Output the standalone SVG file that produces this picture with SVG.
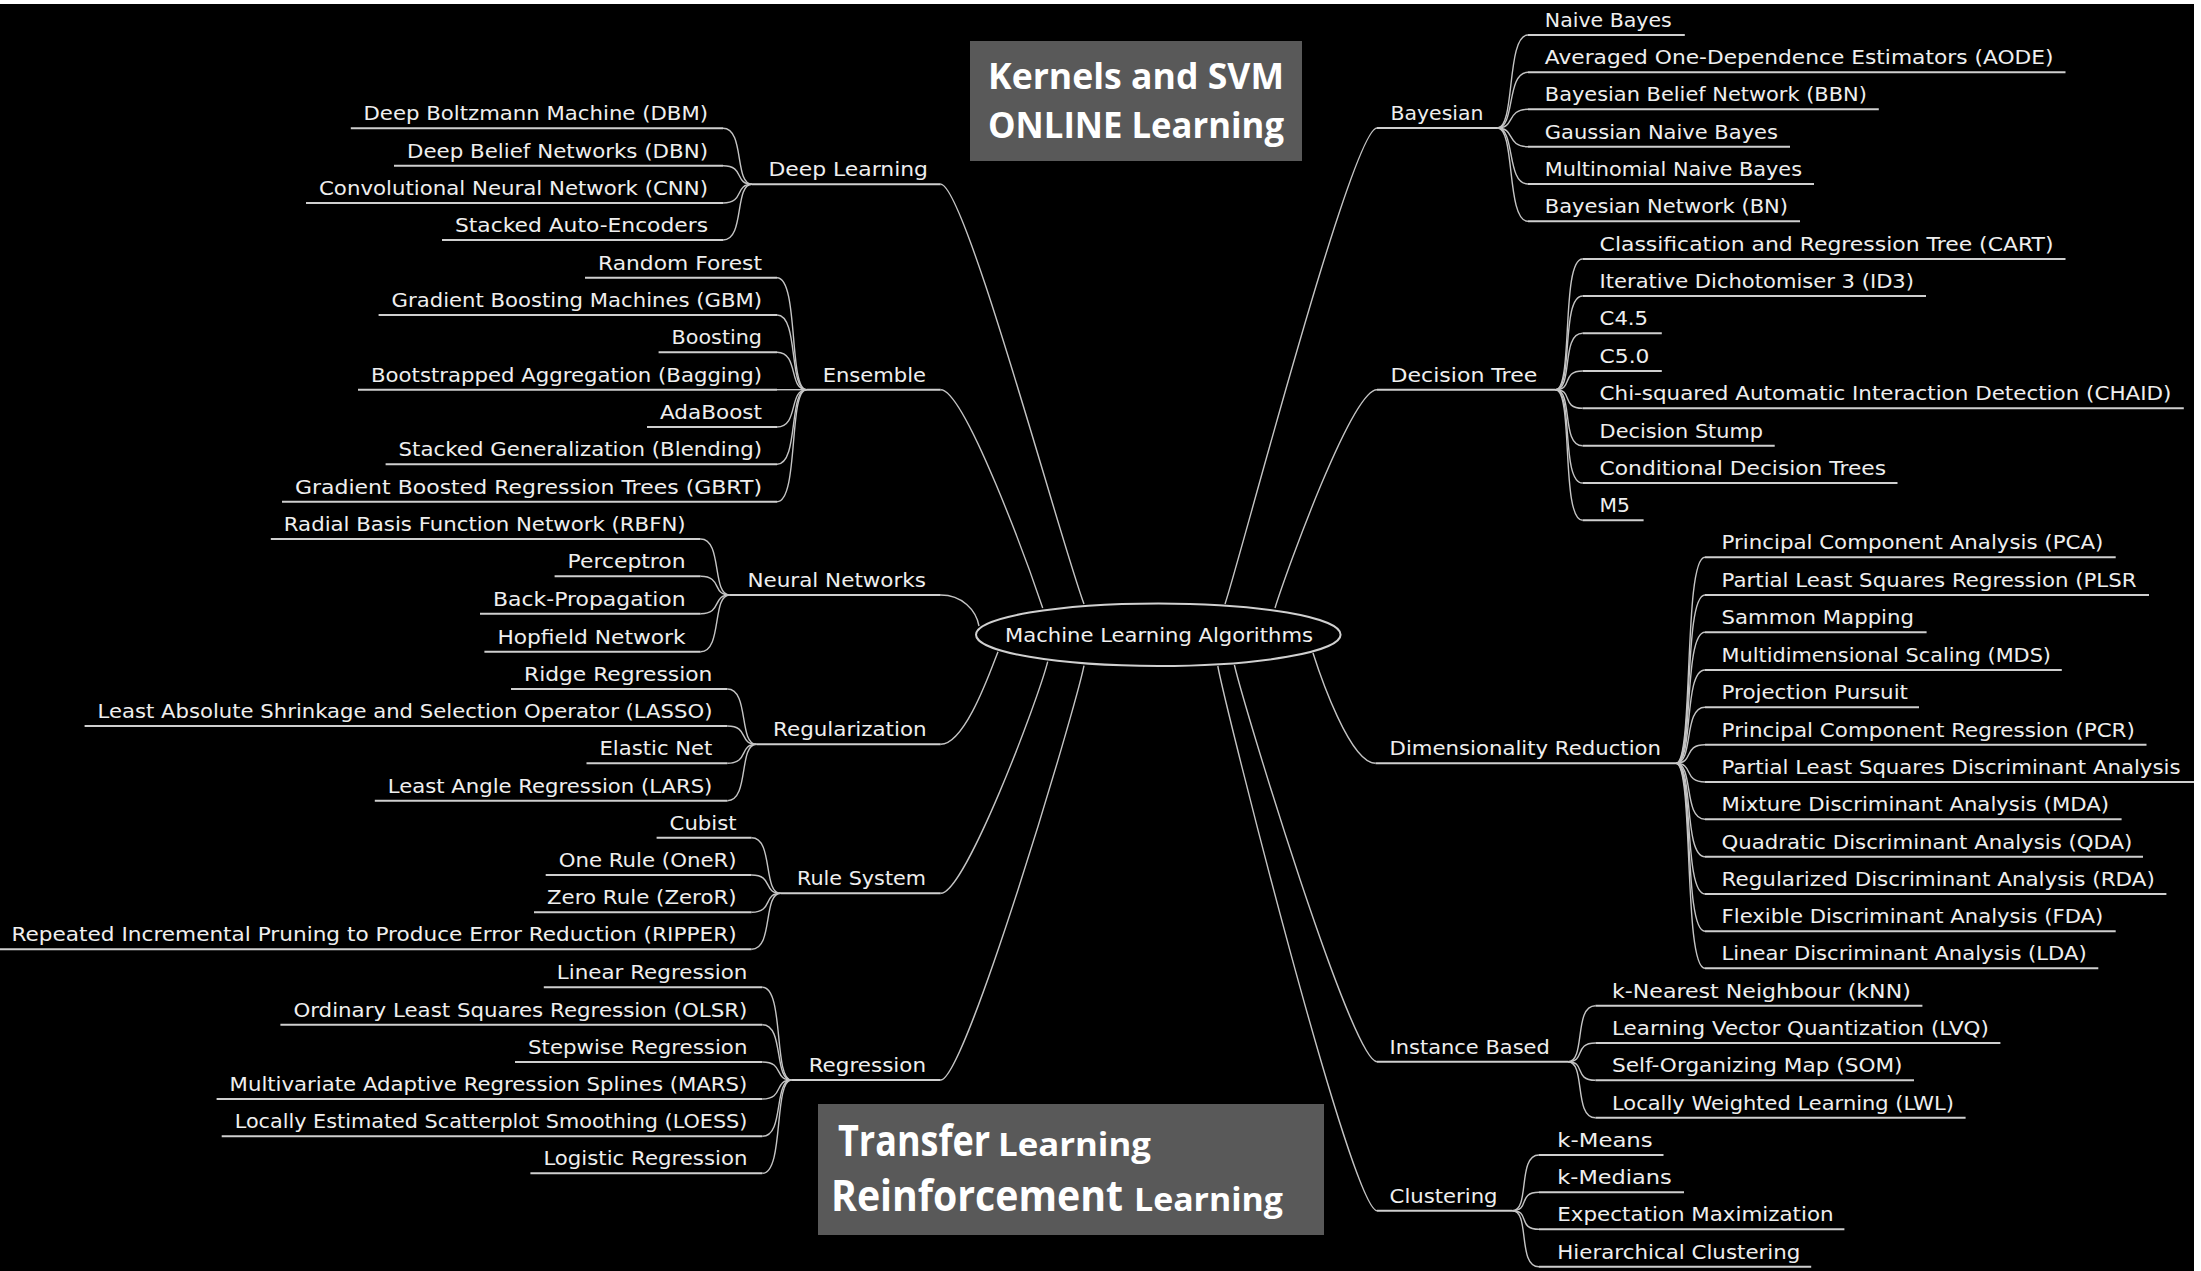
<svg xmlns="http://www.w3.org/2000/svg" width="2201" height="1271" viewBox="0 0 2201 1271">
<style>
.t{font-family:"DejaVu Sans","Liberation Sans",sans-serif;font-size:20px;fill:#efefef;transform:translateY(-1px)}
.e{text-anchor:end}
.u{stroke:#cfcfcf;stroke-width:2;fill:none}
.c{stroke:#c4c4c4;stroke-width:1.4;fill:none}
.bx{fill:#595959}
.b{font-family:"Open Sans","Liberation Sans",sans-serif;font-weight:bold;fill:#ffffff}
</style>
<rect width="2201" height="1271" fill="#000"/>
<rect x="0" y="0" width="2201" height="4" fill="#fff"/>
<rect x="2194" y="0" width="7" height="1271" fill="#fff"/>

<g id="connectors">
<!-- center to categories -->
<path class="c" d="M940.7,184.3 C965,184.3 1060,540 1084,604"/>
<path class="c" d="M940.7,389.7 C965,389.7 1030,570 1042.7,608"/>
<path class="c" d="M940.7,595 C962,595 976,610 979,626"/>
<path class="c" d="M940.7,744.3 C965,744.3 990,672 998,651.7"/>
<path class="c" d="M940.7,893.3 C965,893.3 1038,700 1047.7,661.7"/>
<path class="c" d="M940.7,1080 C965,1080 1075,710 1084,665.7"/>
<path class="c" d="M1377,128 C1352,128 1240,560 1225,604"/>
<path class="c" d="M1377,389.7 C1352,389.7 1287,570 1275,608"/>
<path class="c" d="M1375.5,763.3 C1350,763.3 1320,675 1313,653"/>
<path class="c" d="M1377,1061.7 C1352,1061.7 1245,710 1234.4,665"/>
<path class="c" d="M1377,1210.7 C1352,1210.7 1226,710 1217.8,666"/>
<!-- Deep Learning leaves -->
<path class="c" d="M723,128.3 C745,128.3 734,184.3 752,184.3"/>
<path class="c" d="M723,165.7 C745,165.7 734,184.3 752,184.3"/>
<path class="c" d="M723,203 C745,203 734,184.3 752,184.3"/>
<path class="c" d="M723,240 C745,240 734,184.3 752,184.3"/>
<!-- Ensemble leaves -->
<path class="c" d="M777,277.7 C799,277.7 788.4,389.7 806.4,389.7"/>
<path class="c" d="M777,315 C799,315 788.4,389.7 806.4,389.7"/>
<path class="c" d="M777,352.3 C799,352.3 788.4,389.7 806.4,389.7"/>
<path class="c" d="M777,389.7 L806.4,389.7"/>
<path class="c" d="M777,427 C799,427 788.4,389.7 806.4,389.7"/>
<path class="c" d="M777,464.3 C799,464.3 788.4,389.7 806.4,389.7"/>
<path class="c" d="M777,501.7 C799,501.7 788.4,389.7 806.4,389.7"/>
<!-- Neural Networks leaves -->
<path class="c" d="M700.6,539 C722.6,539 711.6,595 729.6,595"/>
<path class="c" d="M700.6,576.3 C722.6,576.3 711.6,595 729.6,595"/>
<path class="c" d="M700.6,613.7 C722.6,613.7 711.6,595 729.6,595"/>
<path class="c" d="M700.6,651.7 C722.6,651.7 711.6,595 729.6,595"/>
<!-- Regularization leaves -->
<path class="c" d="M727.4,689 C749.4,689 738.4,744.3 756.4,744.3"/>
<path class="c" d="M727.4,726 C749.4,726 738.4,744.3 756.4,744.3"/>
<path class="c" d="M727.4,763.3 C749.4,763.3 738.4,744.3 756.4,744.3"/>
<path class="c" d="M727.4,800.7 C749.4,800.7 738.4,744.3 756.4,744.3"/>
<!-- Rule System leaves -->
<path class="c" d="M751.6,837.7 C773.6,837.7 762.6,893.3 780.6,893.3"/>
<path class="c" d="M751.6,875 C773.6,875 762.6,893.3 780.6,893.3"/>
<path class="c" d="M751.6,912.3 C773.6,912.3 762.6,893.3 780.6,893.3"/>
<path class="c" d="M751.6,949.3 C773.6,949.3 762.6,893.3 780.6,893.3"/>
<!-- Regression leaves -->
<path class="c" d="M762.4,987.3 C784.4,987.3 773.4,1080 791.4,1080"/>
<path class="c" d="M762.4,1024.7 C784.4,1024.7 773.4,1080 791.4,1080"/>
<path class="c" d="M762.4,1062 C784.4,1062 773.4,1080 791.4,1080"/>
<path class="c" d="M762.4,1099 C784.4,1099 773.4,1080 791.4,1080"/>
<path class="c" d="M762.4,1136.3 C784.4,1136.3 773.4,1080 791.4,1080"/>
<path class="c" d="M762.4,1173.3 C784.4,1173.3 773.4,1080 791.4,1080"/>
<!-- Bayesian leaves -->
<path class="c" d="M1497.5,128 C1515.5,128 1506,35 1528,35"/>
<path class="c" d="M1497.5,128 C1515.5,128 1506,72.3 1528,72.3"/>
<path class="c" d="M1497.5,128 C1515.5,128 1506,109.3 1528,109.3"/>
<path class="c" d="M1497.5,128 C1515.5,128 1506,146.7 1528,146.7"/>
<path class="c" d="M1497.5,128 C1515.5,128 1506,184 1528,184"/>
<path class="c" d="M1497.5,128 C1515.5,128 1506,221.3 1528,221.3"/>
<!-- Decision Tree leaves -->
<path class="c" d="M1555.6,389.7 C1573.6,389.7 1560.6,259 1582.6,259"/>
<path class="c" d="M1555.6,389.7 C1573.6,389.7 1560.6,296 1582.6,296"/>
<path class="c" d="M1555.6,389.7 C1573.6,389.7 1560.6,333.3 1582.6,333.3"/>
<path class="c" d="M1555.6,389.7 C1573.6,389.7 1560.6,371 1582.6,371"/>
<path class="c" d="M1555.6,389.7 C1573.6,389.7 1560.6,408.3 1582.6,408.3"/>
<path class="c" d="M1555.6,389.7 C1573.6,389.7 1560.6,445.7 1582.6,445.7"/>
<path class="c" d="M1555.6,389.7 C1573.6,389.7 1560.6,483 1582.6,483"/>
<path class="c" d="M1555.6,389.7 C1573.6,389.7 1560.6,520.3 1582.6,520.3"/>
<!-- Dimensionality Reduction leaves -->
<path class="c" d="M1676,763.3 C1694,763.3 1683,557.3 1705,557.3"/>
<path class="c" d="M1676,763.3 C1694,763.3 1683,595 1705,595"/>
<path class="c" d="M1676,763.3 C1694,763.3 1683,632.3 1705,632.3"/>
<path class="c" d="M1676,763.3 C1694,763.3 1683,670 1705,670"/>
<path class="c" d="M1676,763.3 C1694,763.3 1683,707.3 1705,707.3"/>
<path class="c" d="M1676,763.3 C1694,763.3 1683,744.7 1705,744.7"/>
<path class="c" d="M1676,763.3 C1694,763.3 1683,782 1705,782"/>
<path class="c" d="M1676,763.3 C1694,763.3 1683,819.3 1705,819.3"/>
<path class="c" d="M1676,763.3 C1694,763.3 1683,856.7 1705,856.7"/>
<path class="c" d="M1676,763.3 C1694,763.3 1683,894 1705,894"/>
<path class="c" d="M1676,763.3 C1694,763.3 1683,931.3 1705,931.3"/>
<path class="c" d="M1676,763.3 C1694,763.3 1683,968.3 1705,968.3"/>
<!-- Instance Based leaves -->
<path class="c" d="M1568,1061.7 C1586,1061.7 1573.4,1005.7 1595.4,1005.7"/>
<path class="c" d="M1568,1061.7 C1586,1061.7 1573.4,1043 1595.4,1043"/>
<path class="c" d="M1568,1061.7 C1586,1061.7 1573.4,1080.3 1595.4,1080.3"/>
<path class="c" d="M1568,1061.7 C1586,1061.7 1573.4,1117.7 1595.4,1117.7"/>
<!-- Clustering leaves -->
<path class="c" d="M1512.4,1210.7 C1530.4,1210.7 1517,1155 1539,1155"/>
<path class="c" d="M1512.4,1210.7 C1530.4,1210.7 1517,1192.3 1539,1192.3"/>
<path class="c" d="M1512.4,1210.7 C1530.4,1210.7 1517,1229.3 1539,1229.3"/>
<path class="c" d="M1512.4,1210.7 C1530.4,1210.7 1517,1266.7 1539,1266.7"/>
</g>

<g id="root">
<ellipse cx="1158.3" cy="634.7" rx="182.3" ry="31.3" fill="#000" stroke="#d0d0d0" stroke-width="2"/>
<text class="t" x="1159" y="643.3" text-anchor="middle" textLength="308" lengthAdjust="spacingAndGlyphs">Machine Learning Algorithms</text>
</g>

<g id="kernels-box"><rect class="bx" x="970" y="41" width="332" height="120"/>
<text class="b" x="988" y="89.3" font-size="36" textLength="296" lengthAdjust="spacingAndGlyphs">Kernels and SVM</text>
<text class="b" x="988" y="138.3" font-size="36" textLength="296" lengthAdjust="spacingAndGlyphs">ONLINE Learning</text></g>

<g id="transfer-box"><rect class="bx" x="818" y="1104" width="506" height="131"/>
<g transform="translate(838 1155.7) scale(0.85 1)"><text class="b" x="0" y="0" font-size="43" textLength="178.8" lengthAdjust="spacingAndGlyphs">Transfer</text></g>
<text class="b" x="998" y="1155.7" font-size="33" textLength="153" lengthAdjust="spacingAndGlyphs">Learning</text>
<g transform="translate(831 1210.7) scale(0.9 1)"><text class="b" x="0" y="0" font-size="43" textLength="324.4" lengthAdjust="spacingAndGlyphs">Reinforcement</text></g>
<text class="b" x="1134" y="1210.7" font-size="33" textLength="149" lengthAdjust="spacingAndGlyphs">Learning</text></g>

<!-- Left categories -->
<g id="deep-learning"><text class="t e" x="928" y="177.3" textLength="159.5" lengthAdjust="spacingAndGlyphs">Deep Learning</text><path class="u" d="M752,184.3 H940.7"/></g>
<g id="ensemble"><text class="t e" x="926" y="382.7" textLength="103.3" lengthAdjust="spacingAndGlyphs">Ensemble</text><path class="u" d="M806.4,389.7 H940.7"/></g>
<g id="neural-networks"><text class="t e" x="926" y="588" textLength="178.6" lengthAdjust="spacingAndGlyphs">Neural Networks</text><path class="u" d="M729.6,595 H940.7"/></g>
<g id="regularization"><text class="t e" x="926.7" y="737.3" textLength="153.7" lengthAdjust="spacingAndGlyphs">Regularization</text><path class="u" d="M756.4,744.3 H940.7"/></g>
<g id="rule-system"><text class="t e" x="926" y="886.3" textLength="129" lengthAdjust="spacingAndGlyphs">Rule System</text><path class="u" d="M780.6,893.3 H940.7"/></g>
<g id="regression"><text class="t e" x="926" y="1073" textLength="117.3" lengthAdjust="spacingAndGlyphs">Regression</text><path class="u" d="M791.4,1080 H940.7"/></g>

<!-- Right categories -->
<g id="bayesian"><text class="t" x="1390.5" y="121" textLength="92.9" lengthAdjust="spacingAndGlyphs">Bayesian</text><path class="u" d="M1377,128 H1497.5"/></g>
<g id="decision-tree"><text class="t" x="1390.5" y="382.7" textLength="146.8" lengthAdjust="spacingAndGlyphs">Decision Tree</text><path class="u" d="M1377,389.7 H1555.6"/></g>
<g id="dimensionality-reduction"><text class="t" x="1389.6" y="756.3" textLength="271.4" lengthAdjust="spacingAndGlyphs">Dimensionality Reduction</text><path class="u" d="M1375.5,763.3 H1676"/></g>
<g id="instance-based"><text class="t" x="1389.6" y="1054.7" textLength="160.2" lengthAdjust="spacingAndGlyphs">Instance Based</text><path class="u" d="M1377,1061.7 H1568"/></g>
<g id="clustering"><text class="t" x="1389.6" y="1203.7" textLength="107.9" lengthAdjust="spacingAndGlyphs">Clustering</text><path class="u" d="M1377,1210.7 H1512.4"/></g>

<!-- Deep Learning leaves -->
<g id="dbm"><text class="t e" x="708" y="121.3" textLength="344.5" lengthAdjust="spacingAndGlyphs">Deep Boltzmann Machine (DBM)</text><path class="u" d="M350.8,128.3 H723"/></g>
<g id="dbn"><text class="t e" x="708" y="158.7" textLength="301" lengthAdjust="spacingAndGlyphs">Deep Belief Networks (DBN)</text><path class="u" d="M394,165.7 H723"/></g>
<g id="cnn"><text class="t e" x="708" y="196" textLength="389" lengthAdjust="spacingAndGlyphs">Convolutional Neural Network (CNN)</text><path class="u" d="M306,203 H723"/></g>
<g id="sae"><text class="t e" x="708" y="233" textLength="253" lengthAdjust="spacingAndGlyphs">Stacked Auto-Encoders</text><path class="u" d="M442,240 H723"/></g>

<!-- Ensemble leaves -->
<g id="random-forest"><text class="t e" x="762" y="270.7" textLength="164" lengthAdjust="spacingAndGlyphs">Random Forest</text><path class="u" d="M585,277.7 H777"/></g>
<g id="gbm"><text class="t e" x="762" y="308" textLength="370.4" lengthAdjust="spacingAndGlyphs">Gradient Boosting Machines (GBM)</text><path class="u" d="M378.6,315 H777"/></g>
<g id="boosting"><text class="t e" x="762" y="345.3" textLength="90.4" lengthAdjust="spacingAndGlyphs">Boosting</text><path class="u" d="M658.6,352.3 H777"/></g>
<g id="bagging"><text class="t e" x="762" y="382.7" textLength="391" lengthAdjust="spacingAndGlyphs">Bootstrapped Aggregation (Bagging)</text><path class="u" d="M358,389.7 H777"/></g>
<g id="adaboost"><text class="t e" x="762" y="420" textLength="102" lengthAdjust="spacingAndGlyphs">AdaBoost</text><path class="u" d="M647,427 H777"/></g>
<g id="blending"><text class="t e" x="762" y="457.3" textLength="363.4" lengthAdjust="spacingAndGlyphs">Stacked Generalization (Blending)</text><path class="u" d="M385.6,464.3 H777"/></g>
<g id="gbrt"><text class="t e" x="762" y="494.7" textLength="467" lengthAdjust="spacingAndGlyphs">Gradient Boosted Regression Trees (GBRT)</text><path class="u" d="M282,501.7 H777"/></g>

<!-- Neural Networks leaves -->
<g id="rbfn"><text class="t e" x="685.6" y="532" textLength="401.8" lengthAdjust="spacingAndGlyphs">Radial Basis Function Network (RBFN)</text><path class="u" d="M270.8,539 H700.6"/></g>
<g id="perceptron"><text class="t e" x="685.6" y="569.3" textLength="118" lengthAdjust="spacingAndGlyphs">Perceptron</text><path class="u" d="M554.6,576.3 H700.6"/></g>
<g id="backprop"><text class="t e" x="685.6" y="606.7" textLength="192.6" lengthAdjust="spacingAndGlyphs">Back-Propagation</text><path class="u" d="M480,613.7 H700.6"/></g>
<g id="hopfield"><text class="t e" x="685.6" y="644.7" textLength="188.2" lengthAdjust="spacingAndGlyphs">Hopfield Network</text><path class="u" d="M484.4,651.7 H700.6"/></g>

<!-- Regularization leaves -->
<g id="ridge"><text class="t e" x="712.4" y="682" textLength="188.4" lengthAdjust="spacingAndGlyphs">Ridge Regression</text><path class="u" d="M511,689 H727.4"/></g>
<g id="lasso"><text class="t e" x="712.4" y="719" textLength="614.8" lengthAdjust="spacingAndGlyphs">Least Absolute Shrinkage and Selection Operator (LASSO)</text><path class="u" d="M84.6,726 H727.4"/></g>
<g id="elastic-net"><text class="t e" x="712.4" y="756.3" textLength="112.9" lengthAdjust="spacingAndGlyphs">Elastic Net</text><path class="u" d="M586.5,763.3 H727.4"/></g>
<g id="lars"><text class="t e" x="712.4" y="793.7" textLength="324.6" lengthAdjust="spacingAndGlyphs">Least Angle Regression (LARS)</text><path class="u" d="M374.8,800.7 H727.4"/></g>

<!-- Rule System leaves -->
<g id="cubist"><text class="t e" x="736.6" y="830.7" textLength="67" lengthAdjust="spacingAndGlyphs">Cubist</text><path class="u" d="M656.6,837.7 H751.6"/></g>
<g id="oner"><text class="t e" x="736.6" y="868" textLength="177.9" lengthAdjust="spacingAndGlyphs">One Rule (OneR)</text><path class="u" d="M545.7,875 H751.6"/></g>
<g id="zeror"><text class="t e" x="736.6" y="905.3" textLength="189.6" lengthAdjust="spacingAndGlyphs">Zero Rule (ZeroR)</text><path class="u" d="M534,912.3 H751.6"/></g>
<g id="ripper"><text class="t e" x="736.6" y="942.3" textLength="725.1" lengthAdjust="spacingAndGlyphs">Repeated Incremental Pruning to Produce Error Reduction (RIPPER)</text><path class="u" d="M0,949.3 H751.6"/></g>

<!-- Regression leaves -->
<g id="linear"><text class="t e" x="747.4" y="980.3" textLength="190.6" lengthAdjust="spacingAndGlyphs">Linear Regression</text><path class="u" d="M543.8,987.3 H762.4"/></g>
<g id="olsr"><text class="t e" x="747.4" y="1017.7" textLength="454" lengthAdjust="spacingAndGlyphs">Ordinary Least Squares Regression (OLSR)</text><path class="u" d="M280.4,1024.7 H762.4"/></g>
<g id="stepwise"><text class="t e" x="747.4" y="1055" textLength="219.4" lengthAdjust="spacingAndGlyphs">Stepwise Regression</text><path class="u" d="M515,1062 H762.4"/></g>
<g id="mars"><text class="t e" x="747.4" y="1092" textLength="517.8" lengthAdjust="spacingAndGlyphs">Multivariate Adaptive Regression Splines (MARS)</text><path class="u" d="M216.6,1099 H762.4"/></g>
<g id="loess"><text class="t e" x="747.4" y="1129.3" textLength="512.7" lengthAdjust="spacingAndGlyphs">Locally Estimated Scatterplot Smoothing (LOESS)</text><path class="u" d="M221.7,1136.3 H762.4"/></g>
<g id="logistic"><text class="t e" x="747.4" y="1166.3" textLength="204" lengthAdjust="spacingAndGlyphs">Logistic Regression</text><path class="u" d="M530.4,1173.3 H762.4"/></g>

<!-- Bayesian leaves -->
<g id="naive-bayes"><text class="t" x="1544.8" y="28" textLength="127" lengthAdjust="spacingAndGlyphs">Naive Bayes</text><path class="u" d="M1528,35 H1684.8"/></g>
<g id="aode"><text class="t" x="1544.8" y="65.3" textLength="508.7" lengthAdjust="spacingAndGlyphs">Averaged One-Dependence Estimators (AODE)</text><path class="u" d="M1528,72.3 H2065.5"/></g>
<g id="bbn"><text class="t" x="1544.8" y="102.3" textLength="322" lengthAdjust="spacingAndGlyphs">Bayesian Belief Network (BBN)</text><path class="u" d="M1528,109.3 H1878.8"/></g>
<g id="gaussian-nb"><text class="t" x="1544.8" y="139.7" textLength="233.2" lengthAdjust="spacingAndGlyphs">Gaussian Naive Bayes</text><path class="u" d="M1528,146.7 H1790"/></g>
<g id="multinomial-nb"><text class="t" x="1544.8" y="177" textLength="257.2" lengthAdjust="spacingAndGlyphs">Multinomial Naive Bayes</text><path class="u" d="M1528,184 H1814"/></g>
<g id="bn"><text class="t" x="1544.8" y="214.3" textLength="243.2" lengthAdjust="spacingAndGlyphs">Bayesian Network (BN)</text><path class="u" d="M1528,221.3 H1800"/></g>

<!-- Decision Tree leaves -->
<g id="cart"><text class="t" x="1599.6" y="252" textLength="453.9" lengthAdjust="spacingAndGlyphs">Classification and Regression Tree (CART)</text><path class="u" d="M1582.6,259 H2065.5"/></g>
<g id="id3"><text class="t" x="1599.6" y="289" textLength="314.4" lengthAdjust="spacingAndGlyphs">Iterative Dichotomiser 3 (ID3)</text><path class="u" d="M1582.6,296 H1926"/></g>
<g id="c45"><text class="t" x="1599.6" y="326.3" textLength="48.5" lengthAdjust="spacingAndGlyphs">C4.5</text><path class="u" d="M1582.6,333.3 H1661.8"/></g>
<g id="c50"><text class="t" x="1599.6" y="364" textLength="49.8" lengthAdjust="spacingAndGlyphs">C5.0</text><path class="u" d="M1582.6,371 H1661.8"/></g>
<g id="chaid"><text class="t" x="1599.6" y="401.3" textLength="571.8" lengthAdjust="spacingAndGlyphs">Chi-squared Automatic Interaction Detection (CHAID)</text><path class="u" d="M1582.6,408.3 H2183.8"/></g>
<g id="decision-stump"><text class="t" x="1599.6" y="438.7" textLength="163.4" lengthAdjust="spacingAndGlyphs">Decision Stump</text><path class="u" d="M1582.6,445.7 H1774.7"/></g>
<g id="conditional-dt"><text class="t" x="1599.6" y="476" textLength="286.4" lengthAdjust="spacingAndGlyphs">Conditional Decision Trees</text><path class="u" d="M1582.6,483 H1897.5"/></g>
<g id="m5"><text class="t" x="1599.6" y="513.3" textLength="30.4" lengthAdjust="spacingAndGlyphs">M5</text><path class="u" d="M1582.6,520.3 H1643.6"/></g>

<!-- Dimensionality Reduction leaves -->
<g id="pca"><text class="t" x="1721.6" y="550.3" textLength="381.7" lengthAdjust="spacingAndGlyphs">Principal Component Analysis (PCA)</text><path class="u" d="M1705,557.3 H2115.7"/></g>
<g id="plsr"><text class="t" x="1721.6" y="588" textLength="414.9" lengthAdjust="spacingAndGlyphs">Partial Least Squares Regression (PLSR</text><path class="u" d="M1705,595 H2149"/></g>
<g id="sammon"><text class="t" x="1721.6" y="625.3" textLength="192.4" lengthAdjust="spacingAndGlyphs">Sammon Mapping</text><path class="u" d="M1705,632.3 H1926.6"/></g>
<g id="mds"><text class="t" x="1721.6" y="663" textLength="329.4" lengthAdjust="spacingAndGlyphs">Multidimensional Scaling (MDS)</text><path class="u" d="M1705,670 H2061.8"/></g>
<g id="projection-pursuit"><text class="t" x="1721.6" y="700.3" textLength="186.4" lengthAdjust="spacingAndGlyphs">Projection Pursuit</text><path class="u" d="M1705,707.3 H1919"/></g>
<g id="pcr"><text class="t" x="1721.6" y="737.7" textLength="413.3" lengthAdjust="spacingAndGlyphs">Principal Component Regression (PCR)</text><path class="u" d="M1705,744.7 H2146.5"/></g>
<g id="plsda"><text class="t" x="1721.6" y="775" textLength="458.9" lengthAdjust="spacingAndGlyphs">Partial Least Squares Discriminant Analysis</text><path class="u" d="M1705,782 H2194"/></g>
<g id="mda"><text class="t" x="1721.6" y="812.3" textLength="387.4" lengthAdjust="spacingAndGlyphs">Mixture Discriminant Analysis (MDA)</text><path class="u" d="M1705,819.3 H2121.6"/></g>
<g id="qda"><text class="t" x="1721.6" y="849.7" textLength="410.8" lengthAdjust="spacingAndGlyphs">Quadratic Discriminant Analysis (QDA)</text><path class="u" d="M1705,856.7 H2143"/></g>
<g id="rda"><text class="t" x="1721.6" y="887" textLength="433.2" lengthAdjust="spacingAndGlyphs">Regularized Discriminant Analysis (RDA)</text><path class="u" d="M1705,894 H2166.4"/></g>
<g id="fda"><text class="t" x="1721.6" y="924.3" textLength="381.7" lengthAdjust="spacingAndGlyphs">Flexible Discriminant Analysis (FDA)</text><path class="u" d="M1705,931.3 H2115.7"/></g>
<g id="lda"><text class="t" x="1721.6" y="961.3" textLength="365.1" lengthAdjust="spacingAndGlyphs">Linear Discriminant Analysis (LDA)</text><path class="u" d="M1705,968.3 H2098.3"/></g>

<!-- Instance Based leaves -->
<g id="knn"><text class="t" x="1612" y="998.7" textLength="298.8" lengthAdjust="spacingAndGlyphs">k-Nearest Neighbour (kNN)</text><path class="u" d="M1595.4,1005.7 H1922.4"/></g>
<g id="lvq"><text class="t" x="1612" y="1036" textLength="376.8" lengthAdjust="spacingAndGlyphs">Learning Vector Quantization (LVQ)</text><path class="u" d="M1595.4,1043 H2000.4"/></g>
<g id="som"><text class="t" x="1612" y="1073.3" textLength="290.5" lengthAdjust="spacingAndGlyphs">Self-Organizing Map (SOM)</text><path class="u" d="M1595.4,1080.3 H1914"/></g>
<g id="lwl"><text class="t" x="1612" y="1110.7" textLength="342" lengthAdjust="spacingAndGlyphs">Locally Weighted Learning (LWL)</text><path class="u" d="M1595.4,1117.7 H1965.6"/></g>

<!-- Clustering leaves -->
<g id="k-means"><text class="t" x="1557.3" y="1148" textLength="95.4" lengthAdjust="spacingAndGlyphs">k-Means</text><path class="u" d="M1539,1155 H1663.5"/></g>
<g id="k-medians"><text class="t" x="1557.3" y="1185.3" textLength="114.5" lengthAdjust="spacingAndGlyphs">k-Medians</text><path class="u" d="M1539,1192.3 H1684"/></g>
<g id="em"><text class="t" x="1557.3" y="1222.3" textLength="276.3" lengthAdjust="spacingAndGlyphs">Expectation Maximization</text><path class="u" d="M1539,1229.3 H1844.4"/></g>
<g id="hierarchical"><text class="t" x="1557.3" y="1259.7" textLength="243.1" lengthAdjust="spacingAndGlyphs">Hierarchical Clustering</text><path class="u" d="M1539,1266.7 H1811.2"/></g>
</svg>
